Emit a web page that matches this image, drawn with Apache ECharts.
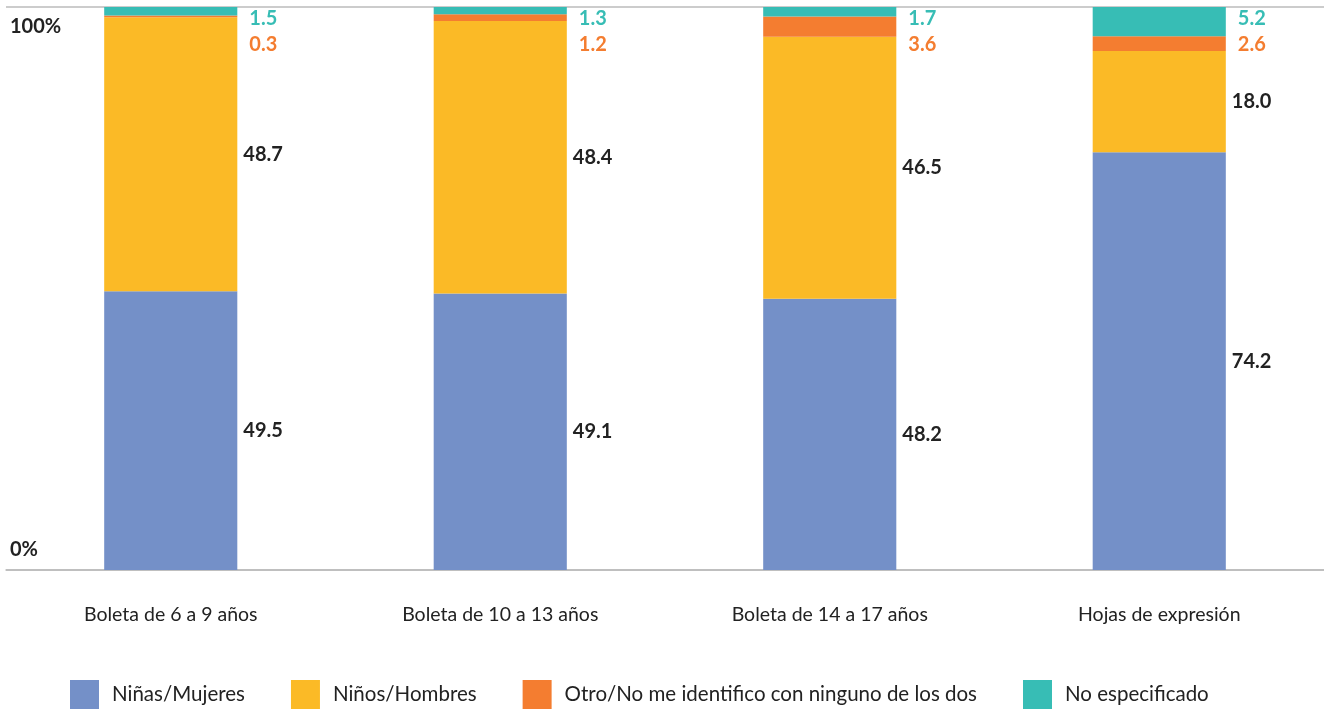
<!DOCTYPE html>
<html>
<head>
<meta charset="utf-8">
<script src="https://cdn.jsdelivr.net/npm/echarts@6/dist/echarts.min.js"></script>
<style>html,body{margin:0;padding:0;background:#fff}#c{width:1324px;height:709px}</style>
</head>
<body>
<div id="c"></div>
<script>
const categories = ['Boleta de 6 a 9 años', 'Boleta de 10 a 13 años', 'Boleta de 14 a 17 años', 'Hojas de expresión'];
const seriesNames = ['Niñas/Mujeres', 'Niños/Hombres', 'Otro/No me identifico con ninguno de los dos', 'No especificado'];
const ninas = [49.5, 49.1, 48.2, 74.2];
const ninos = [48.7, 48.4, 46.5, 18.0];
const otro = [0.3, 1.2, 3.6, 2.6];
const noEsp = [1.5, 1.3, 1.7, 5.2];
const yTicks = [0, 100];

const FONT = 'Lato';
const colors = ['#7490C8', '#FBBA26', '#F47D30', '#37BDB5'];

const chart = echarts.init(document.getElementById('c'), null, {renderer: 'canvas'});
const valLabel = {
  show: true, position: 'right', distance: 6,
  color: '#222', fontFamily: FONT, fontWeight: 'bold', fontSize: 20,
  formatter: p => p.value.toFixed(1)
};
chart.setOption({
  animation: false,
  color: colors,
  textStyle: {fontFamily: FONT},
  grid: {left: 6, right: 0, top: 7, bottom: 139},
  legend: {
    data: seriesNames,
    left: 65, top: 675,
    itemWidth: 29, itemHeight: 29, itemGap: 46,
    icon: 'rect',
    textStyle: {fontFamily: FONT, fontSize: 20.5, color: '#222', padding: [0, 0, 0, 8]}
  },
  xAxis: {
    type: 'category',
    data: categories,
    axisTick: {show: false},
    axisLine: {show: true, lineStyle: {color: '#bbb', width: 1.5}},
    axisLabel: {color: '#222', fontFamily: FONT, fontSize: 19.5, margin: 35}
  },
  yAxis: {
    type: 'value', min: yTicks[0], max: yTicks[1], interval: 100,
    axisLine: {show: false}, axisTick: {show: false},
    splitLine: {show: true, lineStyle: {color: '#bbb', width: 1.5}},
    axisLabel: {
      inside: true, margin: 4,
      formatter: v => v === 100 ? '{top|' + v + '%}' : '{bot|' + v + '%}',
      rich: {
        top: {color: '#222', fontFamily: FONT, fontWeight: 'bold', fontSize: 20, padding: [40, 0, 0, 0]},
        bot: {color: '#222', fontFamily: FONT, fontWeight: 'bold', fontSize: 20, padding: [0, 0, 40, 0]}
      }
    }
  },
  series: [
    {name: seriesNames[0], type: 'bar', stack: 's', barWidth: '40.4%', data: ninas, label: valLabel},
    {name: seriesNames[1], type: 'bar', stack: 's', barWidth: '40.4%', data: ninos, label: valLabel},
    {name: seriesNames[2], type: 'bar', stack: 's', barWidth: '40.4%', data: otro, label: {show: false}},
    {name: seriesNames[3], type: 'bar', stack: 's', barWidth: '40.4%', data: noEsp,
      label: {
        show: true, position: ['100%', 0], offset: [12, -1],
        align: 'left', verticalAlign: 'top',
        formatter: p => '{t|' + p.value.toFixed(1) + '}\n{o|' + otro[p.dataIndex].toFixed(1) + '}',
        rich: {
          t: {color: colors[3], fontFamily: FONT, fontWeight: 'bold', fontSize: 20, lineHeight: 26},
          o: {color: colors[2], fontFamily: FONT, fontWeight: 'bold', fontSize: 20, lineHeight: 26}
        }
      }
    }
  ]
});
</script>
</body>
</html>
